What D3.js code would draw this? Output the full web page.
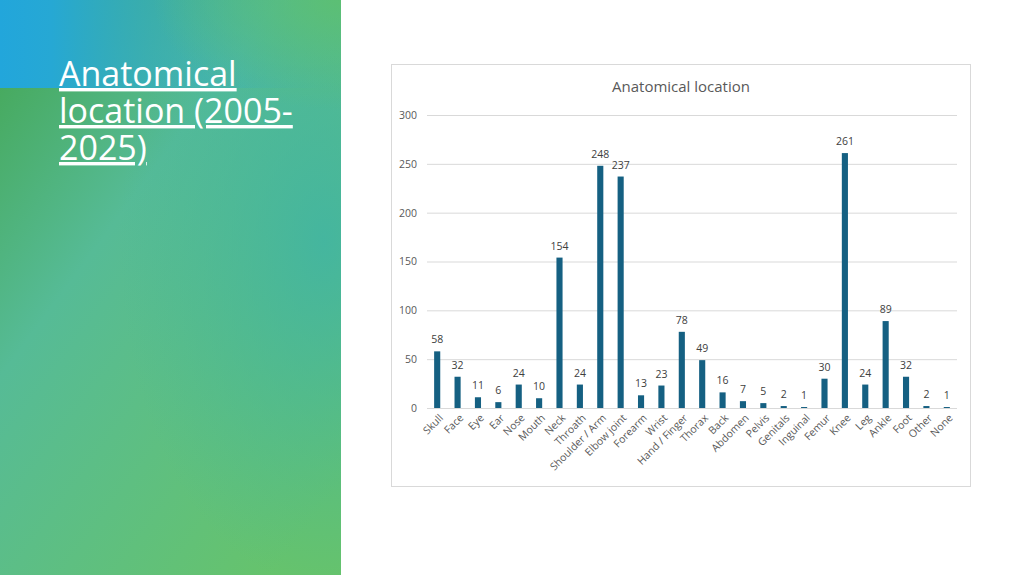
<!DOCTYPE html>
<html>
<head>
<meta charset="utf-8">
<script src="https://cdn.jsdelivr.net/npm/d3@7"></script>
<style>
  html, body { margin: 0; padding: 0; background: #fff; }
  svg { display: block; }
</style>
</head>
<body>
<div id="slide"></div>
<script>
const categories = ["Skull", "Face", "Eye", "Ear", "Nose", "Mouth", "Neck", "Throath",
  "Shoulder / Arm", "Elbow joint", "Forearm", "Wrist", "Hand / Finger", "Thorax", "Back",
  "Abdomen", "Pelvis", "Genitals", "Inguinal", "Femur", "Knee", "Leg", "Ankle", "Foot",
  "Other", "None"];
const counts = [58, 32, 11, 6, 24, 10, 154, 24, 248, 237, 13, 23, 78, 49, 16, 7, 5, 2, 1,
  30, 261, 24, 89, 32, 2, 1];
const yTicks = [0, 50, 100, 150, 200, 250, 300];
const titleLines = ["Anatomical", "location (2005-", "2025)"];

const W = 1024, H = 575;
const BAR_COLOR = "#156082";
const GRID_COLOR = "#d9d9d9";
const TEXT_COLOR = "#595959";
const FONT = "'Open Sans', 'Noto Sans', sans-serif";

const svg = d3.select("#slide").append("svg")
  .attr("width", W)
  .attr("height", H);

const defs = svg.append("defs");

// left panel gradients
const base = defs.append("linearGradient")
  .attr("id", "baseGrad")
  .attr("x1", 0).attr("y1", 0).attr("x2", 0.8).attr("y2", 1);
base.append("stop").attr("offset", "0%").attr("stop-color", "#43a54f");
base.append("stop").attr("offset", "40%").attr("stop-color", "#56bb96");
base.append("stop").attr("offset", "100%").attr("stop-color", "#66c36c");

const teal = defs.append("radialGradient")
  .attr("id", "tealGrad")
  .attr("cx", "0.95").attr("cy", "0.42").attr("r", "0.6");
teal.append("stop").attr("offset", "0%").attr("stop-color", "#40b4a4").attr("stop-opacity", 0.85);
teal.append("stop").attr("offset", "100%").attr("stop-color", "#40b4a4").attr("stop-opacity", 0);

const topBand = defs.append("linearGradient")
  .attr("id", "topGrad")
  .attr("x1", 0).attr("y1", 0).attr("x2", 1).attr("y2", 0);
topBand.append("stop").attr("offset", "0%").attr("stop-color", "#22a6db");
topBand.append("stop").attr("offset", "15%").attr("stop-color", "#26a8d4");
topBand.append("stop").attr("offset", "100%").attr("stop-color", "#45b3b0").attr("stop-opacity", 0);

const corner = defs.append("radialGradient")
  .attr("id", "cornerGrad")
  .attr("cx", "1").attr("cy", "0").attr("r", "0.55");
corner.append("stop").attr("offset", "0%").attr("stop-color", "#5cbf74");
corner.append("stop").attr("offset", "100%").attr("stop-color", "#5cbf74").attr("stop-opacity", 0);

const panel = svg.append("g");
panel.append("rect").attr("width", 341).attr("height", H).attr("fill", "url(#baseGrad)");
panel.append("rect").attr("width", 341).attr("height", H).attr("fill", "url(#tealGrad)");
panel.append("rect").attr("width", 341).attr("height", 88).attr("fill", "url(#topGrad)");
panel.append("rect").attr("width", 341).attr("height", 200).attr("fill", "url(#cornerGrad)");

// slide title
const title = panel.append("text")
  .attr("font-family", FONT)
  .attr("font-size", 34)
  .attr("fill", "#fff")
  .attr("text-decoration", "underline");
title.selectAll("tspan")
  .data(titleLines)
  .enter()
  .append("tspan")
  .attr("x", 59)
  .attr("y", function (d, i) { return 86 + i * 37; })
  .text(function (d) { return d; });

// chart frame
svg.append("rect")
  .attr("x", 391.5).attr("y", 64.5)
  .attr("width", 579).attr("height", 422)
  .attr("fill", "#fff")
  .attr("stroke", GRID_COLOR);

svg.append("text")
  .attr("x", 681).attr("y", 92)
  .attr("text-anchor", "middle")
  .attr("font-family", FONT)
  .attr("font-size", 15)
  .attr("fill", TEXT_COLOR)
  .text("Anatomical location");

const plot = { left: 427, right: 957, top: 115, bottom: 408 };

const x = d3.scaleBand()
  .domain(categories)
  .range([plot.left, plot.right])
  .paddingInner(0.7)
  .paddingOuter(0.35);

const y = d3.scaleLinear()
  .domain([0, 300])
  .range([plot.bottom, plot.top]);

// gridlines + y labels
const yAxis = svg.append("g")
  .attr("transform", "translate(" + plot.left + ",0)")
  .call(d3.axisLeft(y).tickValues(yTicks).tickSize(-(plot.right - plot.left)).tickPadding(10));
yAxis.select(".domain").remove();
yAxis.selectAll(".tick line").attr("stroke", GRID_COLOR);
yAxis.selectAll(".tick text")
  .attr("font-family", FONT)
  .attr("font-size", 10.5)
  .attr("fill", TEXT_COLOR);

// bars
svg.append("g")
  .selectAll("rect")
  .data(categories)
  .enter()
  .append("rect")
  .attr("x", function (d) { return x(d); })
  .attr("y", function (d, i) { return y(counts[i]); })
  .attr("width", x.bandwidth())
  .attr("height", function (d, i) { return y(0) - y(counts[i]); })
  .attr("fill", BAR_COLOR);

// value labels
svg.append("g")
  .selectAll("text")
  .data(categories)
  .enter()
  .append("text")
  .attr("x", function (d) { return x(d) + x.bandwidth() / 2; })
  .attr("y", function (d, i) { return y(counts[i]) - 8; })
  .attr("text-anchor", "middle")
  .attr("font-family", FONT)
  .attr("font-size", 10.5)
  .attr("fill", "#404040")
  .text(function (d, i) { return counts[i]; });

// category labels
svg.append("g")
  .selectAll("text")
  .data(categories)
  .enter()
  .append("text")
  .attr("transform", function (d) {
    return "translate(" + (x(d) + x.bandwidth() / 2 + 4) + "," + (plot.bottom + 8) + ") rotate(-45)";
  })
  .attr("text-anchor", "end")
  .attr("dy", "0.35em")
  .attr("font-family", FONT)
  .attr("font-size", 10.5)
  .attr("fill", TEXT_COLOR)
  .text(function (d) { return d; });
</script>
</body>
</html>
